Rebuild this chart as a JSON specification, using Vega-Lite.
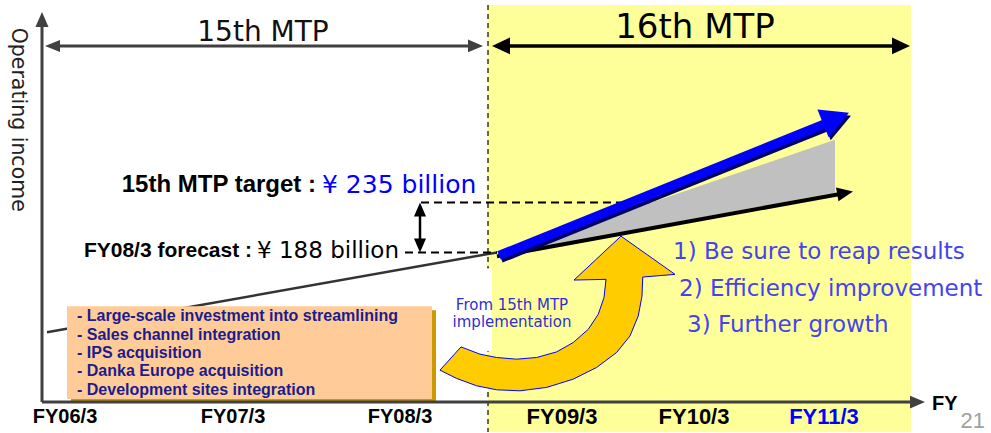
{
  "$schema": "https://vega.github.io/schema/vega-lite/v6.json",
  "width": 991,
  "height": 433,
  "autosize": {"type": "fit", "contains": "padding"},
  "padding": 0,
  "background": "white",
  "config": {"view": {"stroke": null}},
  "encoding": {
    "x": {"field": "x", "type": "quantitative", "axis": null, "scale": {"domain": [2005.6, 2011.79375], "nice": false, "zero": false}},
    "y": {"field": "y", "type": "quantitative", "axis": null, "scale": {"domain": [18.8, 425.82], "nice": false, "zero": false}}
  },
  "layer": [
    {
      "data": {"values": [{"period": "16th MTP", "x": 2008.65, "x2": 2011.294, "y": 421.12, "y2": 18.8}]},
      "mark": {"type": "rect", "color": "#FFFF99"},
      "encoding": {"x2": {"field": "x2"}, "y2": {"field": "y2"}}
    },
    {
      "data": {"values": [{"x": 2008.65, "y": 421.12, "y2": 18.8}]},
      "mark": {"type": "rule", "color": "#000000", "strokeWidth": 1.2, "strokeDash": [5, 4]},
      "encoding": {"y2": {"field": "y2"}}
    },
    {
      "data": {"values": [{"x": 2008.35, "x2": 2008.675, "y": 172.96, "y2": 94.94}]},
      "mark": {"type": "rect", "color": "white"},
      "encoding": {"x2": {"field": "x2"}, "y2": {"field": "y2"}}
    },
    {
      "data": {"values": [{"x": 2005.89375, "y": 112.8, "x2": 2008.70625, "y2": 188}]},
      "mark": {"type": "rule", "color": "#333333", "strokeWidth": 2.5},
      "encoding": {"x2": {"field": "x2"}, "y2": {"field": "y2"}}
    },
    {
      "data": {"values": [{"x": 2006.04375, "x2": 2008.325, "y": 133.48, "y2": 46.06}]},
      "mark": {"type": "rect", "color": "#CC9900"},
      "encoding": {"x2": {"field": "x2"}, "y2": {"field": "y2"}}
    },
    {
      "data": {"values": [{"x": 2006.01875, "x2": 2008.3, "y": 137.24, "y2": 49.82}]},
      "mark": {"type": "rect", "color": "#FFCC99"},
      "encoding": {"x2": {"field": "x2"}, "y2": {"field": "y2"}}
    },
    {
      "data": {"values": [
        {"label": "- Large-scale investment into streamlining", "x": 2006.08125, "y": 127.84},
        {"label": "- Sales channel integration", "x": 2006.08125, "y": 109.98},
        {"label": "- IPS acquisition", "x": 2006.08125, "y": 93.06},
        {"label": "- Danka Europe acquisition", "x": 2006.08125, "y": 76.14},
        {"label": "- Development sites integration", "x": 2006.08125, "y": 58.28}
      ]},
      "mark": {"type": "text", "align": "left", "baseline": "middle", "font": "Liberation Sans", "fontWeight": "bold", "fontSize": 16, "color": "#1c1c8c"},
      "encoding": {"text": {"field": "label"}}
    },
    {
      "data": {"values": [
        {"guide": "target", "x": 2008.23125, "x2": 2010.2375, "y": 235, "y2": 235},
        {"guide": "forecast", "x": 2008.13125, "x2": 2008.70625, "y": 188, "y2": 188}
      ]},
      "mark": {"type": "rule", "color": "#000000", "strokeWidth": 2, "strokeDash": [8, 5]},
      "encoding": {"x2": {"field": "x2"}, "y2": {"field": "y2"}}
    },
    {
      "data": {"values": [{"x": 2008.225, "y": 226.54, "y2": 196.46}]},
      "mark": {"type": "rule", "color": "#000000", "strokeWidth": 2.5},
      "encoding": {"y2": {"field": "y2"}}
    },
    {
      "data": {"values": [{"x": 2008.225, "y": 228.42}]},
      "mark": {"type": "point", "shape": "M1,0L-1,-0.86L-1,0.86Z", "filled": true, "opacity": 1, "color": "#000000", "size": 196, "angle": -90}
    },
    {
      "data": {"values": [{"x": 2008.225, "y": 194.58}]},
      "mark": {"type": "point", "shape": "M1,0L-1,-0.86L-1,0.86Z", "filled": true, "opacity": 1, "color": "#000000", "size": 196, "angle": 90}
    },
    {
      "data": {"values": [
        {"x": 2008.70625, "y": 185.18, "y2": 185.18},
        {"x": 2010.81875, "y": 294.22, "y2": 244.4}
      ]},
      "mark": {"type": "area", "color": "#C0C0C0", "opacity": 1},
      "encoding": {"y2": {"field": "y2"}}
    },
    {
      "data": {"values": [{"x": 2008.70625, "y": 184.24, "x2": 2010.85, "y2": 243.08}]},
      "mark": {"type": "rule", "color": "#000000", "strokeWidth": 4},
      "encoding": {"x2": {"field": "x2"}, "y2": {"field": "y2"}}
    },
    {
      "data": {"values": [{"x": 2010.881875, "y": 244.02}]},
      "mark": {"type": "point", "shape": "M1,0L-1,-0.875L-1,0.875Z", "filled": true, "opacity": 1, "color": "#000000", "size": 256, "angle": -10.35}
    },
    {
      "data": {"values": [{"x": 2008.73125, "y": 182.36, "x2": 2010.76875, "y2": 306.44}]},
      "mark": {"type": "rule", "color": "#000066", "strokeWidth": 9},
      "encoding": {"x2": {"field": "x2"}, "y2": {"field": "y2"}}
    },
    {
      "data": {"values": [{"x": 2010.8375, "y": 311.8}]},
      "mark": {"type": "point", "shape": "M1,0L-1,-1.07L-1,1.07Z", "filled": true, "opacity": 1, "color": "#000066", "size": 784, "angle": -22}
    },
    {
      "data": {"values": [{"x": 2008.71875, "y": 185.18, "x2": 2010.75625, "y2": 309.26}]},
      "mark": {"type": "rule", "color": "#0000FF", "strokeWidth": 9},
      "encoding": {"x2": {"field": "x2"}, "y2": {"field": "y2"}}
    },
    {
      "data": {"values": [{"x": 2010.825, "y": 314.62}]},
      "mark": {"type": "point", "shape": "M1,0L-1,-1.07L-1,1.07Z", "filled": true, "opacity": 1, "color": "#0000FF", "size": 784, "angle": -22}
    },
    {
      "data": {"values": [
        {"line": "operating income axis", "x": 2005.8625, "y": 47, "x2": 2005.8625, "y2": 405.14},
        {"line": "FY axis", "x": 2005.8625, "y": 47, "x2": 2011.3, "y2": 47},
        {"line": "15th MTP", "x": 2005.925, "y": 382.58, "x2": 2008.575, "y2": 382.58}
      ]},
      "mark": {"type": "rule", "color": "#404040", "strokeWidth": 3},
      "encoding": {"x2": {"field": "x2"}, "y2": {"field": "y2"}}
    },
    {
      "data": {"values": [{"x": 2005.8625, "y": 407.49}]},
      "mark": {"type": "point", "shape": "M1,0L-1,-0.87L-1,0.87Z", "filled": true, "opacity": 1, "color": "#404040", "size": 225, "angle": -90}
    },
    {
      "data": {"values": [{"x": 2011.334375, "y": 47}, {"x": 2008.571875, "y": 382.58}]},
      "mark": {"type": "point", "shape": "M1,0L-1,-0.85L-1,0.85Z", "filled": true, "opacity": 1, "color": "#404040", "size": 225}
    },
    {
      "data": {"values": [{"x": 2005.928125, "y": 382.58}]},
      "mark": {"type": "point", "shape": "M1,0L-1,-0.8L-1,0.8Z", "filled": true, "opacity": 1, "color": "#404040", "size": 225, "angle": 180}
    },
    {
      "data": {"values": [{"x": 2008.725, "y": 382.58, "x2": 2011.2375, "y2": 382.58}]},
      "mark": {"type": "rule", "color": "#000000", "strokeWidth": 3.5},
      "encoding": {"x2": {"field": "x2"}, "y2": {"field": "y2"}}
    },
    {
      "data": {"values": [{"x": 2011.23125, "y": 382.58}]},
      "mark": {"type": "point", "shape": "M1,0L-1,-0.94L-1,0.94Z", "filled": true, "opacity": 1, "color": "#000000", "size": 324}
    },
    {
      "data": {"values": [{"x": 2008.73125, "y": 382.58}]},
      "mark": {"type": "point", "shape": "M1,0L-1,-0.94L-1,0.94Z", "filled": true, "opacity": 1, "color": "#000000", "size": 324, "angle": 180}
    },
    {
      "data": {"values": [
        {"i": 1, "x": 2008.35, "y": 77.08},
        {"i": 2, "x": 2008.48125, "y": 98.98},
        {"i": 3, "x": 2008.6, "y": 92.12},
        {"i": 4, "x": 2008.704, "y": 88.98},
        {"i": 5, "x": 2008.829, "y": 87.42},
        {"i": 6, "x": 2008.954, "y": 88.98},
        {"i": 7, "x": 2009.079, "y": 94.28},
        {"i": 8, "x": 2009.183, "y": 103.12},
        {"i": 9, "x": 2009.277, "y": 115.62},
        {"i": 10, "x": 2009.339, "y": 129.72},
        {"i": 11, "x": 2009.375, "y": 145.42},
        {"i": 12, "x": 2009.3875, "y": 162.62},
        {"i": 13, "x": 2009.1875, "y": 161.96},
        {"i": 14, "x": 2009.48125, "y": 203.32},
        {"i": 15, "x": 2009.81875, "y": 167.32},
        {"i": 16, "x": 2009.617, "y": 164.78},
        {"i": 17, "x": 2009.6125, "y": 146.92},
        {"i": 18, "x": 2009.589, "y": 128.12},
        {"i": 19, "x": 2009.5375, "y": 109.32},
        {"i": 20, "x": 2009.454, "y": 93.72},
        {"i": 21, "x": 2009.329, "y": 79.62},
        {"i": 22, "x": 2009.183, "y": 68.62},
        {"i": 23, "x": 2009.017, "y": 60.82},
        {"i": 24, "x": 2008.85, "y": 57.62},
        {"i": 25, "x": 2008.704, "y": 58.56},
        {"i": 26, "x": 2008.579, "y": 62.32},
        {"i": 27, "x": 2008.454, "y": 69.28}
      ]},
      "mark": {"type": "line", "interpolate": "linear-closed", "fill": "#FFCC00", "stroke": "#0000FF", "strokeWidth": 1},
      "encoding": {"order": {"field": "i", "type": "quantitative"}}
    },
    {
      "data": {"values": [
        {"label": "From 15th MTP", "x": 2008.8, "y": 138.18},
        {"label": "implementation", "x": 2008.8, "y": 122.2}
      ]},
      "mark": {"type": "text", "align": "center", "baseline": "middle", "font": "DejaVu Sans", "fontSize": 15, "color": "#3030d0"},
      "encoding": {"text": {"field": "label"}}
    },
    {
      "data": {"values": [
        {"label": "1) Be sure to reap results", "x": 2009.80625, "y": 188},
        {"label": "2) Efficiency improvement", "x": 2009.84375, "y": 153.22},
        {"label": "3) Further growth", "x": 2009.89375, "y": 119.38}
      ]},
      "mark": {"type": "text", "align": "left", "baseline": "middle", "font": "DejaVu Sans", "fontSize": 23, "color": "#4444ee"},
      "encoding": {"text": {"field": "label"}}
    },
    {
      "data": {"values": [{"label": "15th MTP", "x": 2007.24375, "y": 394.8}]},
      "mark": {"type": "text", "align": "center", "baseline": "middle", "font": "DejaVu Sans", "fontSize": 28, "color": "#111111"},
      "encoding": {"text": {"field": "label"}}
    },
    {
      "data": {"values": [{"label": "16th MTP", "x": 2009.94375, "y": 399.5}]},
      "mark": {"type": "text", "align": "center", "baseline": "middle", "font": "DejaVu Sans", "fontSize": 34, "color": "#000000"},
      "encoding": {"text": {"field": "label"}}
    },
    {
      "data": {"values": [{"label": "Operating income", "x": 2005.7125, "y": 313.02}]},
      "mark": {"type": "text", "align": "center", "baseline": "middle", "angle": 90, "font": "DejaVu Sans", "fontSize": 20.5, "color": "#222222"},
      "encoding": {"text": {"field": "label"}}
    },
    {
      "data": {"values": [{"label": "15th MTP target :", "x": 2007.575, "y": 251.92}]},
      "mark": {"type": "text", "align": "right", "baseline": "middle", "font": "Liberation Sans", "fontWeight": "bold", "fontSize": 24, "color": "#000000"},
      "encoding": {"text": {"field": "label"}}
    },
    {
      "data": {"values": [{"label": "¥ 235 billion", "x": 2007.6125, "y": 251.92}]},
      "mark": {"type": "text", "align": "left", "baseline": "middle", "font": "DejaVu Sans", "fontSize": 25, "color": "#0000FF"},
      "encoding": {"text": {"field": "label"}}
    },
    {
      "data": {"values": [{"label": "FY08/3 forecast :", "x": 2007.175, "y": 188.94}]},
      "mark": {"type": "text", "align": "right", "baseline": "middle", "font": "Liberation Sans", "fontWeight": "bold", "fontSize": 21, "color": "#000000"},
      "encoding": {"text": {"field": "label"}}
    },
    {
      "data": {"values": [{"label": "¥ 188 billion", "x": 2007.20625, "y": 188.94}]},
      "mark": {"type": "text", "align": "left", "baseline": "middle", "font": "DejaVu Sans", "fontSize": 23, "color": "#000000"},
      "encoding": {"text": {"field": "label"}}
    },
    {
      "data": {"values": [
        {"label": "FY06/3", "x": 2006.00625, "y": 32.9},
        {"label": "FY07/3", "x": 2007.05625, "y": 32.9},
        {"label": "FY08/3", "x": 2008.1, "y": 32.9}
      ]},
      "mark": {"type": "text", "align": "center", "baseline": "middle", "font": "Liberation Sans", "fontWeight": "bold", "fontSize": 20, "color": "#000000"},
      "encoding": {"text": {"field": "label"}}
    },
    {
      "data": {"values": [
        {"label": "FY09/3", "x": 2009.1125, "y": 32.9},
        {"label": "FY10/3", "x": 2009.9375, "y": 32.9},
        {"label": "FY11/3", "x": 2010.75, "y": 32.9}
      ]},
      "mark": {"type": "text", "align": "center", "baseline": "middle", "font": "Liberation Sans", "fontWeight": "bold", "fontSize": 22},
      "encoding": {
        "text": {"field": "label"},
        "color": {"condition": {"test": "datum.label === 'FY11/3'", "value": "#0000FF"}, "value": "#000000"}
      }
    },
    {
      "data": {"values": [{"label": "FY", "x": 2011.425, "y": 45.12}]},
      "mark": {"type": "text", "align": "left", "baseline": "middle", "font": "Liberation Sans", "fontWeight": "bold", "fontSize": 20, "color": "#000000"},
      "encoding": {"text": {"field": "label"}}
    },
    {
      "data": {"values": [{"label": "21", "x": 2011.68, "y": 29.14}]},
      "mark": {"type": "text", "align": "center", "baseline": "middle", "font": "Liberation Sans", "fontSize": 22, "color": "#A0A0A0"},
      "encoding": {"text": {"field": "label"}}
    }
  ]
}
